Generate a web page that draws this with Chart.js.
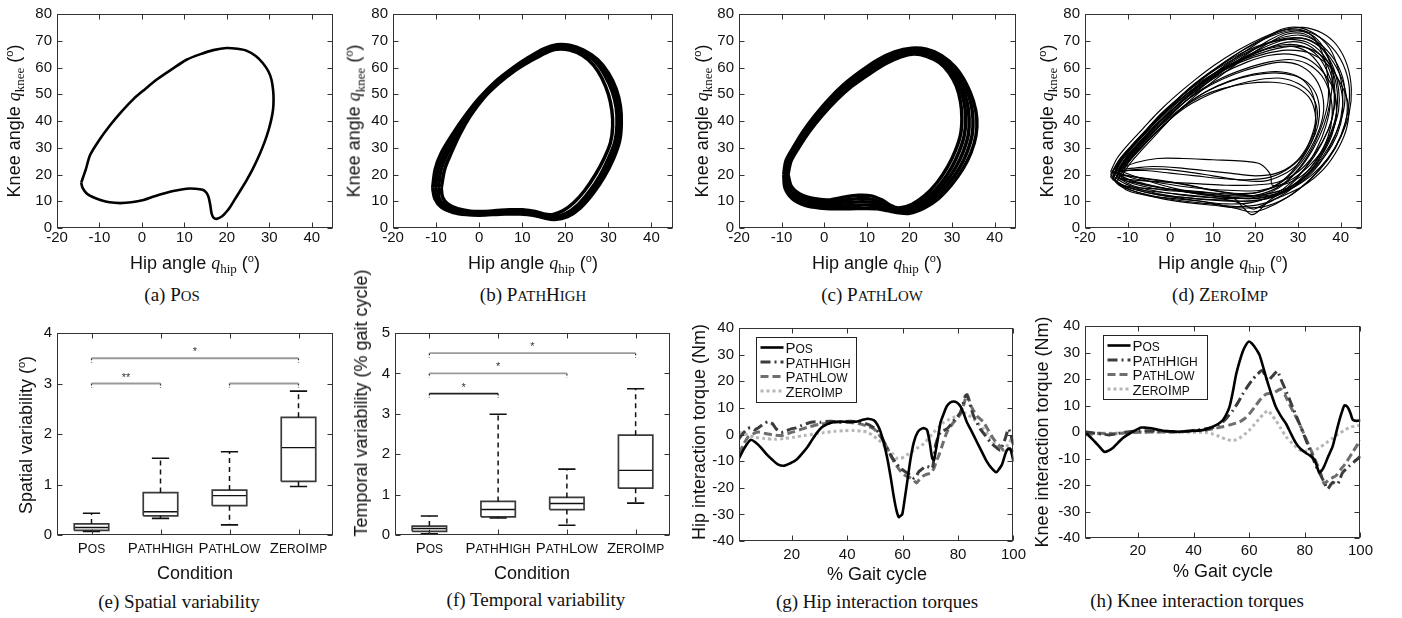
<!DOCTYPE html>
<html><head><meta charset="utf-8">
<script src="https://cdn.jsdelivr.net/npm/chart.js@4.4.0/dist/chart.umd.min.js"></script>
<style>
body{margin:0;width:1402px;height:618px;background:#fff;position:relative;overflow:hidden;font-family:'Liberation Sans',Arial,sans-serif;color:#111;}
canvas{position:absolute;}
.t{position:absolute;white-space:nowrap;color:#111;line-height:1;}
.xt{transform:translate(-50%,-50%);font-size:18px;}
.yt{transform:translate(-50%,-50%) rotate(-90deg);font-size:18px;}
.cap{transform:translate(-50%,-50%);font-family:'Liberation Serif','Times New Roman',serif;font-size:19px;}
.m{font-family:'Liberation Serif','Times New Roman',serif;}
.sc{font-size:0.78em;}
sub.m{font-size:13px;}
sup{font-size:11px;}
</style></head><body>
<canvas id="ca"></canvas><canvas id="cb"></canvas><canvas id="cc"></canvas><canvas id="cd"></canvas>
<canvas id="ce"></canvas><canvas id="cf"></canvas><canvas id="cg"></canvas><canvas id="ch"></canvas>

<div class="t yt" style="left:15px;top:121px">Knee angle <i class="m">q</i><sub class="m">knee</sub> (<sup>o</sup>)</div>
<div class="t yt" style="left:355px;top:121px">Knee angle <i class="m">q</i><sub class="m">knee</sub> (<sup>o</sup>)</div>
<div class="t yt" style="left:703px;top:121px">Knee angle <i class="m">q</i><sub class="m">knee</sub> (<sup>o</sup>)</div>
<div class="t yt" style="left:1048px;top:121px">Knee angle <i class="m">q</i><sub class="m">knee</sub> (<sup>o</sup>)</div>
<div class="t xt" style="left:195px;top:264px">Hip angle <i class="m">q</i><sub class="m">hip</sub> (<sup>o</sup>)</div>
<div class="t xt" style="left:533px;top:264px">Hip angle <i class="m">q</i><sub class="m">hip</sub> (<sup>o</sup>)</div>
<div class="t xt" style="left:877px;top:264px">Hip angle <i class="m">q</i><sub class="m">hip</sub> (<sup>o</sup>)</div>
<div class="t xt" style="left:1223px;top:264px">Hip angle <i class="m">q</i><sub class="m">hip</sub> (<sup>o</sup>)</div>
<div class="t cap" style="left:172px;top:294px">(a) P<span class="sc">OS</span></div>
<div class="t cap" style="left:533px;top:294px">(b) P<span class="sc">ATH</span>H<span class="sc">IGH</span></div>
<div class="t cap" style="left:872px;top:294px">(c) P<span class="sc">ATH</span>L<span class="sc">OW</span></div>
<div class="t cap" style="left:1220px;top:294px">(d) Z<span class="sc">ERO</span>I<span class="sc">MP</span></div>

<div class="t yt" style="left:25px;top:435px">Spatial variability (<sup>o</sup>)</div>
<div class="t yt" style="left:361px;top:403px">Temporal variability (% gait cycle)</div>
<div class="t yt" style="left:699px;top:432px">Hip interaction torque (Nm)</div>
<div class="t yt" style="left:1042px;top:432px">Knee interaction torque (Nm)</div>
<div class="t xt" style="left:195px;top:573px">Condition</div>
<div class="t xt" style="left:532px;top:573px">Condition</div>
<div class="t xt" style="left:877px;top:574px">% Gait cycle</div>
<div class="t xt" style="left:1223px;top:571px">% Gait cycle</div>
<div class="t cap" style="left:179px;top:601px">(e) Spatial variability</div>
<div class="t cap" style="left:536px;top:599px">(f) Temporal variability</div>
<div class="t cap" style="left:877px;top:601px">(g) Hip interaction torques</div>
<div class="t cap" style="left:1197px;top:600px">(h) Knee interaction torques</div>

<script>
// ---------------- data ----------------
const conditionLabels = ['Pos', 'PathHigh', 'PathLow', 'ZeroImp'];
const hipAngleTicks = [-20, -10, 0, 10, 20, 30, 40];
const kneeAngleTicks = [0, 10, 20, 30, 40, 50, 60, 70, 80];
const spatialTicks = [0, 1, 2, 3, 4];
const temporalTicks = [0, 1, 2, 3, 4, 5];
const conditionTicks = [1, 2, 3, 4];
const gaitTicks = [20, 40, 60, 80, 100];
const torqueTicks = [-40, -30, -20, -10, 0, 10, 20, 30, 40];

// (a) POS phase loop [hip, knee]
const posLoop = [[-14.3,16.9],[-13.2,22],[-12.2,27.3],[-10,33],[-7.5,38.4],[-4.8,43.5],[-2,48.2],[0.8,52],[3.5,55.5],[7,59.3],[10.5,62.9],[13.8,65],[16.8,66.5],[19.9,67.3],[22.5,67],[24.6,66.3],[26.8,64.3],[28.5,61.6],[29.8,58.5],[30.5,55.5],[30.9,51.5],[31,48.2],[30.9,44.5],[30.5,40.8],[29.8,36.5],[28.9,32.2],[27.7,27.5],[26.2,22.4],[24.7,18],[23.1,13.8],[21.8,10.5],[20.7,7.7],[19.7,5.7],[18.8,4.3],[17.6,3.4],[16.8,4],[16.4,5.5],[16.1,8.5],[15.7,11.5],[15.2,13.2],[14.3,14.3],[12.5,14.7],[10.5,14.7],[8,14],[5.8,13.2],[3,11.9],[0.4,10.5],[-2.5,9.6],[-5.1,9.3],[-7.6,9.6],[-9.8,10.5],[-11.6,11.6],[-13,12.9],[-14,15.1],[-14.3,16.9]];

// (b) PATHHIGH loops
const pathHighLoop1 = [[-8.8,15],[-8,22],[-6.5,28],[-4.5,35],[-2,42],[1,48.5],[4.5,54],[8,58.5],[12,62.5],[15.5,65.5],[18,66.8],[21,66.5],[24,64.5],[26.5,61],[28.5,56],[30,50],[30.8,44],[31,38],[30.5,32],[29,26],[27,20],[24.5,14],[22,9.5],[19.5,6.5],[17,5],[15,5.2],[13,6.2],[10,6.8],[7,6.8],[4,6.5],[1,6.2],[-2,6.3],[-5,7.2],[-7.3,9],[-8.5,11.5],[-8.8,15]];
const pathHighLoop2 = [[-9.5,15],[-8.8,22],[-7.3,28],[-5,35],[-2.5,42],[0.6,48.5],[4.1,54.2],[7.8,59],[11.8,63.2],[15.3,66.3],[18,67.7],[21,67.4],[24.1,65.5],[27,62],[29.2,57],[30.9,51],[31.8,45],[32,38.5],[31.5,32.2],[30,26],[28,19.5],[25.5,13.5],[22.8,8.5],[20,5.3],[17.2,4],[15,4.5],[12.8,5.5],[9.8,6],[6.5,6],[3.5,5.8],[0.5,5.5],[-2.5,5.6],[-5.5,6.5],[-8,8.5],[-9.3,11.2],[-9.5,15]];
const pathHighLoop3 = [[-10.2,15],[-9.5,22],[-8,28],[-5.6,35],[-2.8,42],[0.3,48.5],[3.8,54.3],[7.6,59.2],[11.6,63.5],[15.1,66.6],[18,68],[21,67.8],[24.2,66],[27.3,62.5],[29.6,57.5],[31.4,51.5],[32.3,45.2],[32.5,38.8],[32,32.4],[30.6,26],[28.5,19.2],[26,13.2],[23.2,8],[20.2,4.8],[17.3,3.6],[15,4.2],[12.6,5.1],[9.6,5.6],[6.2,5.6],[3.2,5.4],[0.2,5.2],[-2.8,5.3],[-5.8,6.2],[-8.4,8.2],[-9.8,11.1],[-10.2,15]];
const pathHighLoop4 = [[-10.8,15],[-10.2,22],[-8.8,28],[-6.2,35],[-3.2,42],[0,48.5],[3.6,54.5],[7.5,59.5],[11.5,63.8],[15,67],[18,68.5],[21,68.3],[24.2,66.5],[27.5,63],[30,58],[31.8,52],[32.8,45.5],[33,39],[32.6,32.5],[31.2,26],[29,19],[26.5,13],[23.5,7.5],[20.5,4.2],[17.5,3.2],[15,3.8],[12.5,4.8],[9.5,5.2],[6,5.2],[3,5],[0,4.8],[-3,5],[-6,5.8],[-8.8,7.8],[-10.3,11],[-10.8,15]];

// (c) PATHLOW loops
const pathLowLoop1 = [[-8.5,20],[-7.8,25],[-6,30],[-3.5,36],[-0.5,42],[3,48],[6.5,53],[10.5,57.5],[14.5,61.5],[18,64],[21,65],[24,64.2],[27,61.8],[29.3,58],[31,53],[32,47],[32.3,41],[32,35],[30.8,29],[29,23],[26.5,17],[23.5,12],[20.5,8.8],[17.5,7.5],[15.5,8.5],[13.5,10.5],[11,12],[8,12.2],[4.5,11.5],[1,10.5],[-2.5,11],[-5.5,12.5],[-7.7,15.5],[-8.5,20]];
const pathLowLoop2 = [[-8.8,20],[-8.1,25],[-6.3,30],[-3.8,36],[-0.9,42],[2.5,48],[6,53.1],[10,57.8],[14,61.8],[17.6,64.5],[20.9,65.6],[24,64.9],[27.1,62.5],[29.6,58.5],[31.6,53.2],[32.8,47.1],[33.2,41],[32.9,34.9],[31.7,28.7],[29.9,22.7],[27.4,16.7],[24.4,11.7],[21.3,8.4],[18.2,7],[15.8,7.7],[13.8,9.3],[11.4,10.7],[8.4,11],[4.8,10.4],[1.4,9.6],[-2.1,10.1],[-5.2,11.5],[-7.6,14.3],[-8.7,17.3],[-8.8,20]];
const pathLowLoop3 = [[-9,20],[-8.4,25],[-6.6,30],[-4.2,36],[-1.3,42],[2,48],[5.5,53.2],[9.5,58],[13.5,62.2],[17.2,65],[20.8,66.2],[24,65.6],[27.2,63.2],[30,59],[32.2,53.5],[33.5,47.2],[34,41],[33.8,34.8],[32.6,28.5],[30.8,22.5],[28.2,16.5],[25.2,11.5],[22,8],[18.8,6.5],[16.2,7],[14.2,8.2],[11.8,9.5],[8.8,9.8],[5.2,9.4],[1.8,8.8],[-1.8,9.2],[-5,10.5],[-7.6,13.2],[-8.9,16.5],[-9,20]];
const pathLowLoop4 = [[-9.3,20],[-8.7,25],[-7,30],[-4.6,36],[-1.8,42],[1.5,48],[5,53.4],[9,58.3],[13,62.5],[16.9,65.4],[20.6,66.7],[24,66.2],[27.4,63.9],[30.4,59.5],[32.8,53.8],[34.3,47.4],[34.9,41],[34.7,34.7],[33.5,28.3],[31.7,22.3],[29,16.3],[26,11.3],[22.8,7.8],[19.4,6],[16.6,6.4],[14.5,7.4],[12.2,8.4],[9.2,8.6],[5.6,8.3],[2.2,8],[-1.4,8.4],[-4.8,9.5],[-7.5,12.1],[-9,15.8],[-9.3,20]];
const pathLowLoop5 = [[-9.5,20],[-9,25],[-7.3,30],[-5,36],[-2.2,42],[1,48],[4.5,53.5],[8.5,58.5],[12.5,62.8],[16.5,65.8],[20.5,67.2],[24,66.8],[27.5,64.5],[30.8,60],[33.3,54],[35,47.5],[35.8,41],[35.6,34.5],[34.4,28],[32.5,22],[29.8,16],[26.8,11],[23.5,7.5],[20,5.5],[17,5.8],[14.8,6.5],[12.5,7.2],[9.5,7.3],[6,7.2],[2.5,7.2],[-1,7.5],[-4.5,8.5],[-7.5,11],[-9.2,15],[-9.5,20]];

// (d) ZEROIMP loops
const zeroImpLoop1 = [[-14,19],[-12.5,24],[-10,29],[-6.5,35],[-3,41],[1,47],[5,53],[10,59],[15,64.5],[20,69],[25,72.5],[29,74],[33,73],[37,69],[40,63],[41.8,55],[42,47],[41,39],[39,31],[36,24],[32,17],[27.5,11.5],[22,8],[16,7.5],[10,8.5],[4,9.5],[-2,11],[-7,13],[-11,15.5],[-14,19]];
const zeroImpLoop2 = [[-12,21],[-10,25],[-7,30],[-4,35],[-0.5,40],[3,45],[7,49],[12,52],[18,54],[24,54.5],[29,53],[32.5,49],[34,43],[34,36],[32.5,30],[30,24],[26.5,20],[22,17.5],[16,18],[10,19.5],[4,21],[-2,22],[-7,22],[-12,21]];
const zeroImpLoop3 = [[-13,18],[-11,24],[-8,30],[-4.5,36],[-1,42],[3,48],[7.5,54],[12.5,59.5],[18,64],[23,67],[28,68],[32,66],[35,61],[37,54],[37.5,46],[36.5,38],[34.5,30],[31.5,22],[27.5,15],[23,10],[20.5,6],[19,5],[17.5,7],[15,11],[10,13],[4,14],[-2,14.5],[-7,15],[-11,16],[-13,18]];
const zeroImpLoop4 = [[-12,22],[-10,27],[-7,32],[-3.5,38],[0,43],[4,49],[9,55],[14,61],[20,66],[26,70],[31,71],[35,68],[38,61],[39.5,52],[39.5,44],[38,36],[35.5,28],[32,21],[28,17],[24,16],[23.5,20],[21,24],[17,25],[10,25.5],[3,26],[-3,26],[-8,24.5],[-12,22]];
const zeroImpLoop5 = [[-13.5,21],[-11.5,26],[-8.5,31],[-5,37],[-1.5,43],[2.5,49],[7,55],[12,61],[17,66.5],[22,71],[26.5,74.5],[30,75],[34,72.5],[37.5,67],[39.5,59],[40.5,50],[40,41],[38,32],[35,24],[31,17.5],[26,13],[20,11],[14,11.5],[8,12.5],[2,14],[-4,15.5],[-9,17.5],[-13.5,21]];
const zeroImpLoop6 = [[-12.5,20],[-10.5,25],[-7.5,30.5],[-4,36.5],[0,42.5],[4.5,48.5],[9.5,53.5],[15,57.5],[21,60.5],[26,62],[30,61],[33.5,57],[35.5,51],[36,44],[35,37],[33,30],[30,23],[26,17],[21,13.5],[15,13],[9,14.5],[3,16.5],[-3,18],[-8,19],[-12.5,20]];
const zeroImpLoop7 = [[-13,17.5],[-11.5,23],[-9,28.5],[-5.5,34.5],[-2,40.5],[2,46.5],[6.5,52.5],[11.5,58],[17,63],[22.5,67],[27.5,69.5],[31.5,69],[35,65],[37.5,58.5],[38.5,50],[38,41],[36,33],[33,25],[29,18],[24.5,12.5],[19,9.5],[13,9],[7,10],[1,11],[-5,12],[-10,14],[-13,17.5]];
const zeroImpLoop8 = [[-11.5,19],[-9.5,24],[-6.5,29.5],[-3,35.5],[0.5,41.5],[4.5,47],[9,51.5],[14,55],[19.5,57.5],[25,58.5],[29.5,57],[32.5,53],[34,46.5],[34,39],[32.5,31.5],[30,24],[26.5,18],[22,14],[17,12.5],[11,13],[5,13.5],[-1,14],[-6,15.5],[-9.5,17],[-11.5,19]];
const zeroImpLoop9 = [[-14,20],[-12,25.5],[-9,31],[-5.5,37],[-2,43],[2,48.5],[6.5,54],[11.5,59],[16.5,63],[21.5,66.5],[26.5,68.5],[31,68],[34.5,64.5],[37,58],[38.5,50.5],[39,42],[37.5,34],[35,26],[31.5,19],[27,13],[21.5,9],[15.5,8],[9.5,9],[3.5,10],[-2.5,11.5],[-8,13.5],[-12,16],[-14,20]];
const zeroImpLoop10 = [[-12.5,19],[-10.5,24.5],[-7.5,30],[-4,36],[0,42],[4,48],[8.5,54],[13.5,60],[18.5,65.5],[23,70],[27,73],[31,73.5],[34.5,70.5],[37,64],[38,56],[37.5,47],[36,38],[33.5,29.5],[30,21.5],[25.5,15],[20,11.5],[14,11],[8,11.5],[2,12.5],[-4,14],[-9,16],[-12.5,19]];
const zeroImpLoop11 = [[-13,20],[-11,25],[-8,30.5],[-4.5,36.5],[-1,42],[3,47.5],[7.5,53],[12.5,58],[18,62],[23,64.5],[28,65],[32.5,63],[36,58],[38.5,51],[39,43],[38,35],[35.5,27],[32,20],[27.5,15],[22,12.5],[16,12],[10,12.5],[4,13.5],[-2,15],[-7,16.5],[-11,18],[-13,20]];
const zeroImpLoop12 = [[-13.5,19.5],[-11.5,25],[-8.5,30],[-5,36],[-1.5,42],[2.5,48],[7,54],[12,59.5],[17,64.5],[22,68.5],[27,71.5],[31,72],[35,69],[38.5,63],[40.5,56],[41,48],[40,40],[37.5,31],[34,23],[29.5,16],[24,11.5],[18,10],[12,10.5],[6,11],[0,12],[-6,14],[-10.5,16.5],[-13.5,19.5]];
const zeroImpLoop13 = [[-12,21.5],[-10,26],[-7,31],[-3.5,36.5],[0,41.5],[4,46.5],[8.5,51],[13.5,54.5],[19,57],[24.5,58],[29,57],[32.5,54],[34.5,49],[35,42],[34,35],[31.5,28],[28,22.5],[23.5,19],[18,18],[12,18.5],[6,19.5],[0,20.5],[-6,21.5],[-12,21.5]];
const zeroImpLoop14 = [[-12.5,20.5],[-10.5,26],[-7.5,31.5],[-4,37.5],[0,43.5],[4,49.5],[8.5,55.5],[13.5,61.5],[18.5,67],[23,71.5],[27,74],[31,74],[34,70.5],[36,64],[37,56],[37,47],[35.5,38],[33,29],[29.5,21],[25,15],[19.5,12],[13.5,11.5],[7.5,12.5],[1.5,14],[-4.5,16],[-9.5,18],[-12.5,20.5]];
const zeroImpLoop15 = [[-13.5,18],[-12,23.5],[-9.5,29],[-6,35],[-2.5,41],[1.5,47],[6,52.5],[11,57.5],[16.5,62],[22,65],[27.5,66.5],[32.5,65.5],[37,61],[40,54],[41.8,46],[41.5,38],[39.5,30],[36,22],[31,15.5],[25,11],[21,8],[19.5,7],[17,9],[12,11],[6,12],[0,13],[-6,14],[-10.5,15.5],[-13.5,18]];
const zeroImpLoop16 = [[-13,21],[-11,26.5],[-8,32],[-4.5,38],[-1,44],[3,50],[7.5,56],[12.5,61.5],[17.5,66],[22.5,69],[27.5,70.5],[32,69.5],[35.5,65.5],[38,59],[39.2,51],[39,43],[37.5,35],[35,27.5],[31,21],[26.5,16.5],[21,14],[15,14],[9,14.5],[3,15.5],[-3,17],[-8.5,18.5],[-13,21]];
const zeroImpLoop17 = [[-13,22],[-11,27],[-8,32.5],[-4.5,38],[-1,43.5],[3,49],[7.5,54.5],[12.5,59.5],[18,63.5],[23.5,66.5],[29,68],[33.5,66.5],[37,62],[39.5,55],[40.5,47],[40,39],[38,31],[34.5,23.5],[30,17],[24.5,12.5],[18.5,11],[12.5,11.5],[6.5,13],[0.5,15],[-5,17.5],[-9.5,20],[-13,22]];
const zeroImpLoop18 = [[-12,18.5],[-10,24],[-7,29.5],[-3.5,35.5],[0.5,41.5],[4.5,47.5],[9,53.5],[14,59.5],[19,65],[23.5,69.5],[27.5,72.5],[31.5,72.5],[35,68.5],[37.5,62],[38.5,54],[38.5,45],[37,36.5],[34,28],[30,21],[25,17],[19,16],[13,16],[7,16.5],[1,17],[-5,17.5],[-9,18],[-12,18.5]];
const zeroImpLoop19 = [[-11,22],[-9,26.5],[-6,31.5],[-2.5,37],[1,42],[5,46.5],[10,50.5],[15.5,53.5],[21,55.5],[26,56],[30,54],[33,50],[34.5,44],[34,37],[32,30],[29,24],[25,20.5],[20,19.5],[14,20.5],[8,21.5],[2,22.5],[-4,23],[-8,22.5],[-11,22]];
const zeroImpLoop20 = [[-13.5,19],[-12,24.5],[-9.5,30],[-6,36],[-2.5,42],[1.5,48],[6,54],[11,59.5],[16.5,64.5],[22,68.5],[27.5,71],[32,70.5],[36,66.5],[39,60],[41,52],[41.5,43],[40,34],[37,25.5],[32.5,17.5],[27,11],[22,7],[19,6],[15,7.5],[9,9.5],[3,11],[-3,12.5],[-8.5,14.5],[-12,16.5],[-13.5,19]];
const zeroImpLoop21 = [[-12.5,17],[-11,22.5],[-8.5,28],[-5,34],[-1.5,40],[2.5,46],[7,51.5],[12,56],[17.5,59.5],[23,62],[28,63],[32,61.5],[35.5,57],[37.5,50],[38,42],[37,34],[34.5,26],[31,19],[26.5,13.5],[21,10.5],[15,10],[9,10.5],[3,11.5],[-3,12.5],[-8.5,14.5],[-12.5,17]];
const zeroImpLoop22 = [[-14,21],[-12.5,26],[-10,31],[-6.5,37],[-3,43],[1,49],[5.5,55],[10.5,61],[16,66.5],[21.5,71],[26.5,74],[31,75],[35.5,73],[39,68.5],[41.5,61],[42.5,52],[42,43],[40,34],[37,26],[33,19.5],[28,14.5],[22,12],[16,12.5],[10,14],[4,16],[-2,17.5],[-8,19],[-14,21]];

// (e) spatial variability box stats
const spatialLow = [0.07, 0.33, 0.20, 0.96];
const spatialQ1 = [0.09, 0.38, 0.58, 1.06];
const spatialMedian = [0.15, 0.46, 0.78, 1.73];
const spatialQ3 = [0.22, 0.84, 0.89, 2.33];
const spatialHigh = [0.43, 1.52, 1.65, 2.85];
const spatialSigFrom = [1, 1, 3];
const spatialSigTo = [4, 2, 4];
const spatialSigLevel = [3.5, 3.0, 3.0];
const spatialSigText = ['*', '**', ''];

// (f) temporal variability box stats
const temporalLow = [0.03, 0.42, 0.24, 0.79];
const temporalQ1 = [0.09, 0.45, 0.63, 1.16];
const temporalMedian = [0.16, 0.63, 0.78, 1.60];
const temporalQ3 = [0.22, 0.83, 0.93, 2.47];
const temporalHigh = [0.47, 2.99, 1.63, 3.62];
const temporalSigFrom = [1, 1, 1];
const temporalSigTo = [4, 3, 2];
const temporalSigLevel = [4.5, 4.0, 3.5];
const temporalSigText = ['*', '*', '*'];

// (g) hip interaction torque [% gait, Nm]
const hipPos = [[1,-9],[3,-5],[5.2,-2],[7,-3],[9,-5],[11,-7.5],[13,-9.5],[15,-11.2],[17.4,-11.7],[19.5,-10.8],[21.6,-9.6],[23.5,-7.5],[25.7,-4.7],[27.5,-1.8],[29.3,0.9],[31,2.8],[32.9,3.9],[35,4.6],[37.7,4.9],[40,4.7],[43.7,4.9],[46,5.6],[47.5,5.9],[49.7,5.3],[51,3.5],[52.1,0.9],[53.3,-3.5],[54.5,-9],[55.7,-16],[56.9,-23.8],[57.8,-28.5],[58.6,-31],[59.3,-30.5],[59.9,-29.9],[60.8,-24],[61.7,-17.6],[62.9,-9],[64.1,-2.8],[65.5,1],[67.1,2.3],[68.2,2.2],[68.9,1.5],[69.8,-3],[70.7,-9],[71.3,-9.5],[71.9,-6.5],[72.8,-1],[73.7,4.6],[74.9,8],[76,10.7],[77.2,12],[78.4,12.4],[79.6,12],[80.8,10.7],[82,8],[83.2,4.6],[85,1],[86.8,-2.8],[88.6,-6.5],[90.4,-10.2],[92,-12.5],[93.8,-14.2],[94.8,-13],[95.8,-11.4],[96.7,-8.5],[97.6,-5.9],[98.8,-5.3],[100,-10.2]];
const hipPathHigh = [[1,-1.6],[2.5,0.5],[4.2,2.3],[5.5,2.5],[6.6,1.8],[8,2.5],[9,3.3],[10.2,4.2],[11.4,4.8],[12.3,4.5],[13.2,3.9],[14.4,2.1],[16.2,0.9],[18,1.3],[19.8,2.1],[21.6,2.5],[23.4,3.3],[25.2,4],[26.9,4.6],[28.7,4.8],[30.5,4.6],[32.3,4.9],[34.1,5],[35.9,4.8],[37.7,4.6],[39.5,4.9],[41.3,5],[43.1,4.8],[44.9,4.6],[46.7,4.1],[48.5,3.3],[50.3,2],[52.1,-0.4],[53.9,-4],[55.7,-7.8],[57.5,-10.5],[59.3,-12.7],[61.7,-14.5],[63,-15.5],[64.1,-16.4],[65,-15.5],[65.9,-13.9],[67,-13],[68.3,-12],[69.5,-12.2],[70.7,-12.7],[71.3,-9],[71.9,-4],[72.8,-1],[73.7,0.9],[74.8,1.5],[76,2.1],[77.2,3.5],[78.4,5.2],[79.6,6.5],[80.8,8.2],[81.7,11],[82.6,14.4],[83.2,14.8],[83.8,13.2],[84.7,10],[85.6,7],[86.8,4.5],[88,2.1],[89.8,-0.3],[91.6,-2.8],[93.4,-4.5],[95.2,-5.9],[96.1,-4],[97,-1.6],[97.6,0.5],[98.2,2.1],[99,0],[100,-4]];
const hipPathLow = [[1,-7.1],[2.5,-4],[4.2,-1],[6,0.2],[7.8,0.9],[9.6,0.6],[11.4,0.2],[13.8,-0.2],[16.2,-0.4],[18.5,0.3],[20.9,1.1],[23.3,1.9],[25.7,2.7],[28.1,3.4],[30.5,3.9],[32.9,4.3],[35.3,4.6],[37.7,4.7],[40.1,4.6],[42.5,4.3],[44.9,3.9],[47.3,3.1],[49.7,2.1],[51.5,0],[53.3,-2.8],[55.1,-6.5],[56.9,-10.2],[58.7,-13],[60.5,-15.1],[61.7,-15.8],[62.9,-16.4],[64,-17.2],[65,-18.2],[66,-17],[67.1,-15.8],[68.6,-15],[70.1,-14.5],[71.3,-12.7],[72.2,-10],[73.1,-7.8],[74.5,-3.5],[76,0.9],[77.2,2.8],[78.4,4.6],[79.6,6],[80.8,7.6],[82,11],[83.2,15],[84,13],[84.7,10.7],[85.7,8.8],[86.8,7],[88,5.8],[89.2,4.6],[91,1.5],[92.8,-1.6],[94.6,-3.8],[96.4,-5.9],[97.3,-5.7],[98.2,-5.3],[99.1,-5.8],[100,-6.5]];
const hipZeroImp = [[1,0.9],[3.8,0],[6.6,-1],[10.2,-1.5],[13.8,-1.8],[17.4,-1.5],[20.9,-1],[24.5,-0.4],[28.1,0.2],[31.7,0.7],[35.3,1.2],[38.9,1.4],[42.5,1.5],[45,1.3],[47.3,0.9],[49.1,-0.3],[50.9,-1.6],[52.7,-3.4],[54.5,-5.3],[56.3,-7.2],[58.1,-9],[59.3,-9],[60.5,-8.4],[62.3,-7.2],[64.1,-5.9],[65.9,-4.7],[67.7,-3.4],[69.5,-1.3],[71.3,0.9],[73.1,2.8],[74.9,4.6],[76.7,5.6],[78.4,6.4],[80.2,7.3],[82,8.2],[83.8,7.2],[85.6,5.8],[87.4,4],[89.2,2.1],[91,-0.3],[92.8,-2.8],[94.6,-4.5],[96.4,-5.9],[98.2,-3.5],[100,-0.4]];

// (h) knee interaction torque [% gait, Nm]
const kneePos = [[1,0],[2.5,-1.5],[3.9,-3],[6,-5.3],[8,-7.5],[9.5,-7],[11,-6],[12.8,-4.1],[14.6,-2.3],[16.4,-1],[18.2,0.1],[19.7,1],[21.2,1.7],[23,1.6],[24.8,1.4],[27,0.9],[29,0.5],[31.4,0.3],[33.8,0.1],[36.2,0.2],[38.5,0.4],[40.9,0.5],[43.3,0.7],[45.7,1.5],[48.1,2.6],[49.3,3.4],[50.5,4.4],[51.7,6.5],[52.9,9.4],[54.1,15],[55.3,21.7],[56.5,26.5],[57.7,30.4],[58.8,32.8],[59.8,34.1],[60.9,33.5],[61.9,32.2],[62.8,30.8],[63.7,29.1],[64.9,25],[66.1,20.5],[67.9,14.5],[69.6,9.4],[71.4,6],[73.2,3.2],[75,-0.6],[76.8,-4.2],[78.6,-6.5],[80.4,-7.9],[81.9,-9],[83.4,-10.4],[84.3,-12.8],[85.2,-15.3],[86.1,-14.5],[87,-12.8],[88.5,-9],[90,-5.4],[91.2,-0.5],[92.4,4.4],[93.3,7.5],[94.2,10],[95,9.8],[95.7,8.8],[96.5,6.8],[97.2,4.7],[98.6,4.2],[100,4.4]];
const kneePathHigh = [[1,0.1],[3,-0.2],[5,-0.5],[7.4,-0.8],[9.8,-1.1],[12.2,-0.7],[14.6,-0.2],[17.6,0.2],[20.6,0.5],[23.6,0.5],[26.6,0.4],[30.8,0.2],[35,0],[38,0.3],[40.9,0.7],[43.9,1.1],[46.9,1.7],[48.7,2.6],[50.5,3.8],[52.3,5.8],[54.1,8.1],[55.9,11],[57.7,14.3],[59.5,17.3],[61.3,19.9],[63,21.8],[64.6,23.2],[65.7,21.5],[66.7,19.3],[67.6,20.2],[68.4,21.1],[69.3,22.2],[70.2,23],[70.8,21.5],[71.4,19.9],[73.5,14.8],[75.6,9.4],[78,3.3],[80.4,-3],[82.2,-8],[84,-12.8],[85.2,-15.3],[86.4,-17.8],[87.3,-19.8],[88.2,-21.5],[89.1,-20.2],[90,-19],[90.9,-19.4],[91.8,-19.6],[92.7,-17.5],[93.6,-15.3],[94.8,-14],[96,-12.8],[98,-11],[100,-9.1]];
const kneePathLow = [[1,-1.1],[3.6,-0.8],[6.2,-0.5],[9.2,-0.6],[12.2,-0.7],[15.2,-0.4],[18.2,-0.2],[22.4,-0.1],[26.6,0],[30.8,0],[35,0.1],[39.8,0.4],[44.5,0.7],[47.5,1.3],[50.5,2],[53.5,2.8],[56.5,3.8],[58.3,5],[60.1,6.9],[61.9,9.3],[63.7,11.9],[64.9,13.3],[66.1,14.3],[67.6,14.6],[69,14.9],[70.2,15.6],[71.4,16.2],[72.6,14.5],[73.8,11.9],[75.9,7.5],[78,3.2],[79.8,-1],[81.6,-5.4],[83.4,-9.8],[85.2,-14.1],[86.1,-17],[87,-19.6],[87.9,-18.7],[88.8,-17.8],[90,-17.2],[91.2,-16.5],[93,-14],[94.8,-11.6],[97.4,-7.3],[100,-3]];
const kneeZeroImp = [[1,-0.5],[6,-0.5],[11,-0.5],[17,-0.2],[23,0],[29,0],[35,0],[39.8,-0.1],[44.5,-0.2],[47,-0.8],[49.3,-1.7],[51.4,-2.6],[53.5,-3.2],[55,-3],[56.5,-2.3],[58.3,-0.9],[60.1,0.7],[61.9,2.9],[63.7,5.1],[65.2,6.8],[66.7,8.1],[68.1,6.4],[69.6,4.4],[71.4,1.3],[73.2,-1.7],[75.6,-4.4],[78,-6.7],[80.4,-7.2],[82.8,-7.3],[85.2,-5.9],[87.6,-4.2],[90,-2.3],[92.4,-0.5],[94.2,0.6],[96,1.7],[98,2.2],[100,2.6]];

// ---------------- chart setup ----------------
const FONT = "'Liberation Sans', Arial, Helvetica, sans-serif";
Chart.defaults.font.family = FONT;
Chart.defaults.color = '#111';
Chart.defaults.animation = false;
Chart.defaults.events = [];

const YW = 50, PT = 10, PR = 16, XH = 32;
const SC_RATIO = 0.8;

// small-caps text: capitals full size, lower-case letters as smaller capitals
function drawSmallCaps(ctx, text, x, y, size, align) {
  const runs = [];
  for (const ch of text) {
    const s = ch === ch.toUpperCase() ? size : size * SC_RATIO;
    const last = runs[runs.length - 1];
    if (last && last.s === s) last.t += ch.toUpperCase(); else runs.push({t: ch.toUpperCase(), s});
  }
  let w = 0;
  runs.forEach(r => { ctx.font = r.s + 'px ' + FONT; r.w = ctx.measureText(r.t).width; w += r.w; });
  let cx = align === 'center' ? x - w / 2 : x;
  ctx.textAlign = 'left'; ctx.textBaseline = 'alphabetic';
  runs.forEach(r => { ctx.font = r.s + 'px ' + FONT; ctx.fillText(r.t, cx, y); cx += r.w; });
}

const framePlugin = {
  id: 'frame',
  afterDraw(chart) {
    const {ctx, chartArea: a, scales: {x, y}} = chart;
    ctx.save();
    ctx.strokeStyle = '#333'; ctx.lineWidth = 1; ctx.setLineDash([]);
    const l = Math.round(a.left) + 0.5, t = Math.round(a.top) + 0.5;
    const r = Math.round(a.right) - 0.5, b = Math.round(a.bottom) - 0.5;
    ctx.strokeRect(l, t, r - l, b - t);
    const L = 5;
    ctx.beginPath();
    x.ticks.forEach(tk => { const p = Math.round(x.getPixelForValue(tk.value)) + 0.5;
      ctx.moveTo(p, b); ctx.lineTo(p, b - L); ctx.moveTo(p, t); ctx.lineTo(p, t + L); });
    y.ticks.forEach(tk => { const p = Math.round(y.getPixelForValue(tk.value)) + 0.5;
      ctx.moveTo(l, p); ctx.lineTo(l + L, p); ctx.moveTo(r, p); ctx.lineTo(r - L, p); });
    ctx.stroke();
    ctx.restore();
  }
};

const categoryLabelPlugin = {
  id: 'categoryLabels',
  afterDraw(chart, args, o) {
    if (!o || !o.labels) return;
    const {ctx, chartArea: a, scales: {x}} = chart;
    ctx.save(); ctx.fillStyle = '#111';
    x.ticks.forEach((tk, i) => drawSmallCaps(ctx, o.labels[i], x.getPixelForValue(tk.value), a.bottom + o.offset, o.size, 'center'));
    ctx.restore();
  }
};

const insetLegendPlugin = {
  id: 'insetLegend',
  afterDatasetsDraw(chart, args, o) {
    if (!o || !o.show) return;
    const {ctx, chartArea: a} = chart;
    const x0 = Math.round(a.left + o.dx) + 0.5, y0 = Math.round(a.top + o.dy) + 0.5;
    ctx.save();
    ctx.fillStyle = '#fff'; ctx.fillRect(x0, y0, o.w, o.h);
    ctx.strokeStyle = '#222'; ctx.lineWidth = 1; ctx.setLineDash([]);
    ctx.strokeRect(x0, y0, o.w, o.h);
    chart.data.datasets.forEach((ds, i) => {
      const yy = y0 + o.first + i * o.step;
      ctx.strokeStyle = ds.borderColor; ctx.lineWidth = ds.borderWidth;
      ctx.setLineDash(ds.borderDash || []);
      ctx.beginPath(); ctx.moveTo(x0 + 4, yy); ctx.lineTo(x0 + 27, yy); ctx.stroke();
      ctx.setLineDash([]);
      ctx.fillStyle = '#111';
      drawSmallCaps(ctx, ds.label, x0 + 29, yy + 5.5, o.size, 'left');
    });
    ctx.restore();
  }
};

const sigStarsPlugin = {
  id: 'sigStars',
  afterDatasetsDraw(chart, args, o) {
    if (!o || !o.text) return;
    const {ctx, scales: {x, y}} = chart;
    ctx.save();
    ctx.fillStyle = '#333'; ctx.font = '11px ' + FONT;
    ctx.textAlign = 'center'; ctx.textBaseline = 'alphabetic';
    o.text.forEach((s, k) => {
      if (!s) return;
      ctx.fillText(s, x.getPixelForValue((o.from[k] + o.to[k]) / 2), y.getPixelForValue(o.level[k]) - 3);
    });
    ctx.restore();
  }
};

function axis(min, max, tickVals, fix, pad, opts = {}) {
  return {
    type: 'linear', min, max,
    grid: {display: false, drawTicks: false, tickLength: 0}, border: {display: false},
    afterBuildTicks(s) { s.ticks = tickVals.map(v => ({value: v})); },
    afterFit(s) { if (s.isHorizontal()) s.height = fix; else s.width = fix; },
    ticks: {
      display: !opts.hideLabels,
      padding: pad, autoSkip: false, maxRotation: 0, minRotation: 0, color: '#111',
      font: {family: FONT, size: 15},
      callback: v => String(v)
    }
  };
}

function loopSet(pts, width) {
  return {data: pts.map(([x, y]) => ({x, y})), showLine: true, borderColor: '#000',
    borderWidth: width, pointRadius: 0, tension: 0.3, fill: false};
}
function seriesSet(label, pts, color, width, dash) {
  return {label, data: pts.map(([x, y]) => ({x, y})), showLine: true, borderColor: color,
    borderWidth: width, borderDash: dash, pointRadius: 0, tension: 0.25, fill: false};
}

const BOX_HALF = 0.25, CAP_HALF = 0.125;
function boxSets(lo, q1, med, q3, hi) {
  const box = [], mid = [], wh = [], cap = [];
  const gap = c => ({x: c, y: null});
  q1.forEach((_, k) => {
    const c = conditionTicks[k];
    box.push({x: c - BOX_HALF, y: q1[k]}, {x: c + BOX_HALF, y: q1[k]}, {x: c + BOX_HALF, y: q3[k]}, {x: c - BOX_HALF, y: q3[k]}, {x: c - BOX_HALF, y: q1[k]}, gap(c));
    mid.push({x: c - BOX_HALF, y: med[k]}, {x: c + BOX_HALF, y: med[k]}, gap(c));
    wh.push({x: c, y: q3[k]}, {x: c, y: hi[k]}, gap(c), {x: c, y: q1[k]}, {x: c, y: lo[k]}, gap(c));
    cap.push({x: c - CAP_HALF, y: hi[k]}, {x: c + CAP_HALF, y: hi[k]}, gap(c), {x: c - CAP_HALF, y: lo[k]}, {x: c + CAP_HALF, y: lo[k]}, gap(c));
  });
  const base = {showLine: true, pointRadius: 0, tension: 0, spanGaps: false, fill: false};
  return [
    {...base, data: wh, borderColor: '#111', borderWidth: 1.5, borderDash: [5, 4]},
    {...base, data: cap, borderColor: '#111', borderWidth: 1.6},
    {...base, data: box, borderColor: '#3a3a3a', borderWidth: 1.7},
    {...base, data: mid, borderColor: '#111', borderWidth: 1.4}
  ];
}
function bracketSets(from, to, level, drop, colors) {
  const base = {showLine: true, pointRadius: 0, tension: 0, spanGaps: false, fill: false};
  const out = [];
  from.forEach((f, k) => {
    out.push({...base, data: [{x: f, y: level[k]}, {x: to[k], y: level[k]}], borderColor: colors[k], borderWidth: 1.8});
    out.push({...base, data: [{x: f, y: level[k]}, {x: f, y: level[k] - drop}, {x: f, y: null}, {x: to[k], y: level[k]}, {x: to[k], y: level[k] - drop}],
      borderColor: '#222', borderWidth: 1.2, borderDash: [2, 2]});
  });
  return out;
}

function makeChart(id, area, xAx, yAx, datasets, pluginOpts, extra) {
  const [L, T, R, B] = area;
  const c = document.getElementById(id);
  c.width = YW + (R - L) + PR; c.height = PT + (B - T) + XH;
  c.style.left = (L - YW) + 'px'; c.style.top = (T - PT) + 'px';
  return new Chart(c, {
    type: 'scatter',
    data: {datasets},
    options: {
      responsive: false, animation: false, devicePixelRatio: 1,
      layout: {padding: {left: 0, top: PT, right: PR, bottom: 0}},
      scales: {x: xAx, y: yAx},
      plugins: Object.assign({legend: {display: false}, tooltip: {enabled: false}}, pluginOpts || {})
    },
    plugins: [framePlugin].concat(extra || [])
  });
}

const phaseX = () => axis(-20, 45, hipAngleTicks, XH, 1);
const phaseY = () => axis(0, 80, kneeAngleTicks, YW, 5);

makeChart('ca', [57, 10, 333, 228], phaseX(), phaseY(), [loopSet(posLoop, 2.6)]);
makeChart('cb', [393, 10, 673, 228], phaseX(), phaseY(),
  [pathHighLoop1, pathHighLoop2, pathHighLoop3, pathHighLoop4].map(p => loopSet(p, 3.5)));
makeChart('cc', [739, 10, 1016, 228], phaseX(), phaseY(),
  [pathLowLoop1, pathLowLoop2, pathLowLoop3, pathLowLoop4, pathLowLoop5].map(p => loopSet(p, 3.5)));
makeChart('cd', [1085, 10, 1362, 228], phaseX(), phaseY(),
  [zeroImpLoop1, zeroImpLoop2, zeroImpLoop3, zeroImpLoop4, zeroImpLoop5, zeroImpLoop6, zeroImpLoop7, zeroImpLoop8,
   zeroImpLoop9, zeroImpLoop10, zeroImpLoop11, zeroImpLoop12, zeroImpLoop13, zeroImpLoop14, zeroImpLoop15, zeroImpLoop16,
   zeroImpLoop17, zeroImpLoop18, zeroImpLoop19, zeroImpLoop20, zeroImpLoop21, zeroImpLoop22].map(p => loopSet(p, 1.15)));

const GRAY = '#9a9a9a';
makeChart('ce', [57, 329, 333, 535],
  axis(0.5, 4.5, conditionTicks, XH, 4, {hideLabels: true}),
  axis(0, 4, spatialTicks, YW, 5),
  bracketSets(spatialSigFrom, spatialSigTo, spatialSigLevel, 0.09, [GRAY, GRAY, GRAY])
    .concat(boxSets(spatialLow, spatialQ1, spatialMedian, spatialQ3, spatialHigh)),
  {sigStars: {from: spatialSigFrom, to: spatialSigTo, level: spatialSigLevel, text: spatialSigText},
   categoryLabels: {labels: conditionLabels, offset: 18, size: 15}},
  [sigStarsPlugin, categoryLabelPlugin]);
makeChart('cf', [395, 329, 670, 535],
  axis(0.5, 4.5, conditionTicks, XH, 4, {hideLabels: true}),
  axis(0, 5, temporalTicks, YW, 5),
  bracketSets(temporalSigFrom, temporalSigTo, temporalSigLevel, 0.11, [GRAY, GRAY, '#222'])
    .concat(boxSets(temporalLow, temporalQ1, temporalMedian, temporalQ3, temporalHigh)),
  {sigStars: {from: temporalSigFrom, to: temporalSigTo, level: temporalSigLevel, text: temporalSigText},
   categoryLabels: {labels: conditionLabels, offset: 18, size: 15}},
  [sigStarsPlugin, categoryLabelPlugin]);

const torqueSets = (pos, high, low, zero) => [
  seriesSet(conditionLabels[0], pos, '#000', 2.6, []),
  seriesSet(conditionLabels[1], high, '#3c3c3c', 3, [10, 4, 2, 4]),
  seriesSet(conditionLabels[2], low, '#6e6e6e', 3, [8, 4]),
  seriesSet(conditionLabels[3], zero, '#b6b6b6', 3, [3, 3])
];
makeChart('cg', [739, 324, 1015, 541], axis(1, 100, gaitTicks, XH, 5), axis(-40, 40, torqueTicks, YW, 5),
  torqueSets(hipPos, hipPathHigh, hipPathLow, hipZeroImp),
  {insetLegend: {show: true, dx: 17, dy: 9, w: 100, h: 65, first: 10, step: 14.5, size: 15}}, [insetLegendPlugin]);
makeChart('ch', [1085, 322, 1361, 538], axis(1, 100, gaitTicks, XH, 4), axis(-40, 40, torqueTicks, YW, 5),
  torqueSets(kneePos, kneePathHigh, kneePathLow, kneeZeroImp),
  {insetLegend: {show: true, dx: 18, dy: 9, w: 104, h: 64, first: 10, step: 14.5, size: 15}}, [insetLegendPlugin]);
</script>
</body></html>
